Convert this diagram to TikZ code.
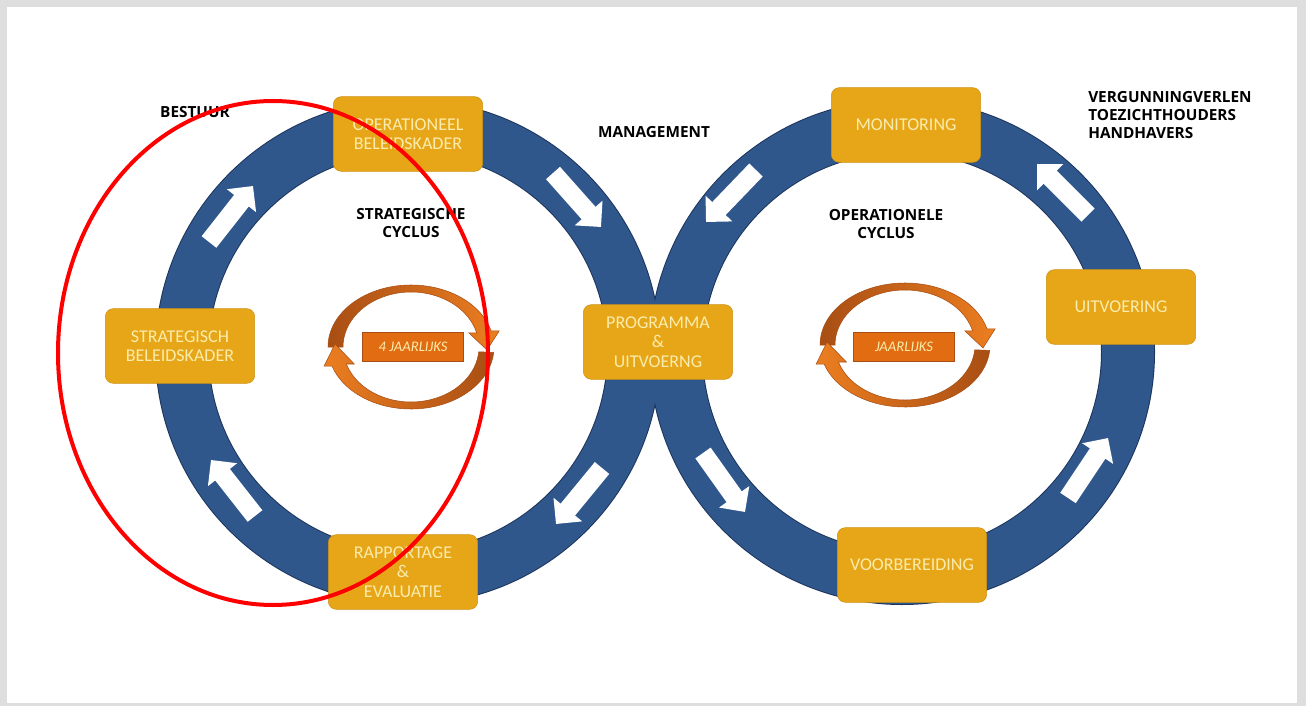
\documentclass[tikz,border=0pt]{standalone}
\usepackage{fontspec}
\setmainfont{Carlito}
\newfontfamily\labelfont{Open Sans}
\usetikzlibrary{arrows.meta}

\definecolor{ringblue}{RGB}{47,87,140}
\definecolor{ringedge}{RGB}{28,52,92}
\definecolor{boxgold}{RGB}{231,166,24}
\definecolor{boxedge}{RGB}{206,146,22}
\definecolor{boxtext}{RGB}{250,236,172}
\definecolor{arcorange}{RGB}{236,126,32}
\definecolor{arcbrown}{RGB}{168,78,20}
\definecolor{tagorange}{RGB}{226,108,18}
\definecolor{pagegray}{RGB}{222,222,222}

\tikzset{
  stepbox/.style={draw=boxedge, fill=boxgold, rounded corners=6pt, align=center,
    minimum width=112pt, minimum height=56pt, inner sep=2pt, text=boxtext,
    font=\fontsize{13.5}{14.5}\selectfont},
  tagbox/.style={draw=arcbrown, fill=tagorange, minimum width=76pt, minimum height=22pt,
    inner sep=1pt, text=boxtext, font=\itshape\fontsize{11}{12}\selectfont},
  cyclelabel/.style={align=center, inner sep=0pt, text=black,
    font=\labelfont\bfseries\fontsize{11.5}{13.5}\selectfont},
  ringarrow/.style={white, line width=14pt, -{Triangle[length=14pt, width=27pt]}},
  ringline/.style={draw=ringedge, line width=1.5pt, fill=ringblue, even odd rule},
  ringfill/.style={fill=ringblue, even odd rule}
}

\begin{document}
\begin{tikzpicture}[x=0.75pt,y=0.75pt,yscale=-1,xscale=1]
\useasboundingbox (0,0) rectangle (1306,706);

%Page
\fill[pagegray] (0,0) rectangle (1306,706);
\fill[white] (7,7) rectangle (1297,703);

%Rings
\path[ringline] (408,352) circle (252) (408,352) circle (200);
\path[ringline] (902,352) circle (252) (902,352) circle (200);
\path[ringfill] (408,352) circle (252) (408,352) circle (200);
\path[ringfill] (902,352) circle (252) (902,352) circle (200);

%Arrows on the strategic ring
\draw[ringarrow] (209,242) -- (253,186);
\draw[ringarrow] (553,173) -- (601,227);
\draw[ringarrow] (602,468) -- (556,524);
\draw[ringarrow] (255,516) -- (211,460);
%Arrows on the operational ring
\draw[ringarrow] (756,170) -- (706,222);
\draw[ringarrow] (1088,215) -- (1037,164);
\draw[ringarrow] (1068,498) -- (1108,438);
\draw[ringarrow] (703,453) -- (745,512);

%Boxes
\node[stepbox] (opkader) at (408,134) {OPERATIONEEL\\BELEIDSKADER};
\node[stepbox] (stratkader) at (180,346) {STRATEGISCH\\BELEIDSKADER};
\node[stepbox] (programma) at (658,342) {PROGRAMMA\\\&\\UITVOERNG};
\node[stepbox] (rapportage) at (403,572) {RAPPORTAGE\\\&\\EVALUATIE};
\node[stepbox] (monitoring) at (906,125) {MONITORING};
\node[stepbox] (uitvoering) at (1121,307) {UITVOERING};
\node[stepbox] (voorbereiding) at (912,565) {VOORBEREIDING};

% Text Node
\node[cyclelabel] (bestuur) at (195,112) {BESTUUR};
\node[cyclelabel] (management) at (654,132) {MANAGEMENT};
\node[cyclelabel] (strategisch) at (411,223) {STRATEGISCHE\\CYCLUS};
\node[cyclelabel] (operationeel) at (886,224) {OPERATIONELE\\CYCLUS};
\node[cyclelabel, align=left, anchor=west] (uitvoerders) at (1088,115) {VERGUNNINGVERLEN\\TOEZICHTHOUDERS\\HANDHAVERS};

%Circular arrows, strategic cycle
\begin{scope}[shift={(411,347)}]
\path[draw=arcbrown, left color=arcbrown, right color=arcorange] (180:83 and 62) arc[start angle=180, end angle=345, x radius=83, y radius=62] -- ++(8,0) -- (76,3) -- (57.7,-14.2) -- (345:68 and 55) arc[start angle=345, end angle=180, x radius=68, y radius=55] -- cycle;
\path[draw=arcbrown, left color=arcorange, right color=arcbrown] (5:83 and 62) arc[start angle=5, end angle=162, x radius=83, y radius=62] -- ++(-8,0) -- (-76,-3) -- (-56.7,17) -- (162:68 and 55) arc[start angle=162, end angle=5, x radius=68, y radius=55] -- cycle;
\end{scope}
\node[tagbox] (vierjaar) at (413,347) {4 JAARLIJKS};

%Circular arrows, operational cycle
\begin{scope}[shift={(905,345)}]
\path[draw=arcbrown, left color=arcbrown, right color=arcorange] (180:85 and 62) arc[start angle=180, end angle=345, x radius=85, y radius=62] -- ++(8,0) -- (78,3) -- (59.7,-14.2) -- (345:70 and 55) arc[start angle=345, end angle=180, x radius=70, y radius=55] -- cycle;
\path[draw=arcbrown, left color=arcorange, right color=arcbrown] (5:85 and 62) arc[start angle=5, end angle=162, x radius=85, y radius=62] -- ++(-8,0) -- (-78,-3) -- (-58.6,17) -- (162:70 and 55) arc[start angle=162, end angle=5, x radius=70, y radius=55] -- cycle;
\end{scope}
\node[tagbox] (jaarlijks) at (904,347) {JAARLIJKS};

%Red ellipse
\draw[red, line width=3pt] (273,353) ellipse (215 and 252);

\end{tikzpicture}
\end{document}
